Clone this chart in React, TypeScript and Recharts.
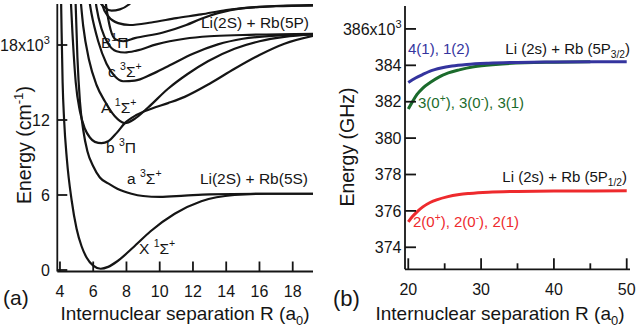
import React from 'react';
import { LineChart, Line, XAxis, YAxis } from 'recharts';

type Pt = [number, number];

// Panel (a): potential curves, R (a0) vs energy (10^3 cm^-1)
const curveX1Sigma: Pt[] = [[4.05,23],[4.1,19],[4.16,15],[4.25,12],[4.42,8.8],[4.7,5.6],[5.0,3.3],[5.3,1.9],[5.6,1.0],[6.0,0.35],[6.45,0.1],[6.9,0.25],[7.45,0.7],[8.4,1.8],[9.45,3.1],[10.9,4.5],[12.5,5.5],[14.5,6.0],[16.5,6.1],[19.3,6.1]];
const curveA3Sigma: Pt[] = [[4.9,23],[5.05,17],[5.2,13.5],[5.4,11.2],[5.65,9.5],[6.0,8.3],[6.4,7.4],[7.0,6.85],[7.45,6.5],[8.3,6.1],[9.0,5.92],[10.0,5.85],[11.5,5.95],[13,6.05],[16,6.1],[19.3,6.1]];
const curveB3Pi: Pt[] = [[4.6,23],[4.75,19],[4.95,15],[5.2,12.7],[5.5,11.3],[5.8,10.6],[6.1,10.25],[6.5,10.15],[6.9,10.3],[7.4,10.95],[7.9,11.75],[8.6,12.4],[9.5,12.9],[10.5,13.35],[11.5,13.85],[13,14.9],[14.5,16.1],[16,17.2],[17.5,18.1],[19.3,18.75]];
const curveA1Sigma: Pt[] = [[5.15,23],[5.4,19.5],[5.75,16.8],[6.2,14.8],[6.7,13.5],[7.3,12.3],[7.9,11.75],[8.5,12.1],[9.3,13.0],[10.5,14.5],[11.7,15.7],[12.9,16.7],[14.5,17.7],[16,18.3],[17.5,18.65],[19.3,18.85]];
const curveC3Sigma: Pt[] = [[5.6,23],[5.9,20.5],[6.3,18.3],[6.8,16.5],[7.3,15.5],[7.8,15.1],[8.5,15.15],[9.5,15.65],[10.5,16.3],[12,17.3],[13.5,18.05],[15,18.5],[17,18.75],[19.3,18.85]];
const curveB1Pi: Pt[] = [[6.0,23],[6.2,21],[6.5,19.3],[6.9,18.1],[7.4,17.5],[7.9,17.4],[8.6,17.55],[9.8,18.05],[11.5,18.5],[13,18.7],[15,18.8],[19.3,18.9]];
const curveUpper1: Pt[] = [[6.3,23],[6.55,21.2],[6.9,20.3],[7.5,19.75],[8.2,19.6],[9.5,19.8],[11,20.15],[12.5,20.45],[14,20.8],[16,21.05],[19.3,21.2]];
const curveUpper2: Pt[] = [[6.05,23],[6.3,21.7],[6.7,21.0],[7.1,20.75],[7.6,20.85],[8.1,21.2],[8.5,21.8],[8.8,23]];
const curveUpper3: Pt[] = [[6.6,23],[6.85,20.5],[7.05,19.2],[7.35,18.45],[7.8,18.3],[8.5,18.55],[10.2,19.0],[11.6,19.6],[12.5,20.1],[13.5,20.55],[15,20.95],[17,21.1],[19.3,21.15]];

const panelACurves: Pt[][] = [curveX1Sigma, curveA3Sigma, curveB3Pi, curveA1Sigma, curveC3Sigma, curveB1Pi, curveUpper1, curveUpper2, curveUpper3];

const panelAXTicks = [4, 6, 8, 10, 12, 14, 16, 18];
const panelAYTicks = [0, 6, 12, 18];

// Panel (b): long-range curves, R (a0) vs energy (GHz)
const blueCurve: Pt[] = [[20,383.05],[21,383.3],[22,383.5],[23,383.68],[24.5,383.85],[26,383.96],[28,384.05],[31,384.12],[35,384.16],[40,384.18],[50,384.2]];
const greenCurve: Pt[] = [[20,381.6],[20.5,381.95],[21.2,382.4],[22,382.75],[23,383.05],[24.2,383.35],[25.5,383.58],[27,383.75],[29,383.92],[32,384.05],[36,384.14],[40,384.17],[45,384.19]];
const redCurve: Pt[] = [[20,375.4],[20.6,375.7],[21.2,375.95],[22,376.22],[23,376.46],[24,376.62],[25.3,376.77],[27,376.9],[28.4,376.96],[31,377.03],[35,377.07],[40,377.09],[50,377.1]];

const panelBXTicks = [20, 25, 30, 35, 40, 45, 50];
const panelBXLabeled = [20, 30, 40, 50];
const panelBYTicks = [374, 376, 378, 380, 382, 384, 386];

const FONT = '"Liberation Sans", Arial, Helvetica, sans-serif';
const INK = '#151515';
const BLUE = '#34349e';
const GREEN = '#1b6b2c';
const RED = '#ee2a2d';

const toRows = (pts: Pt[]) => pts.map(([r, e]) => ({ r, e }));

type Part = [string, number];
function Rich({ x, y, parts, size, anchor = 'start', fill = INK, rotate }: { x: number; y: number; parts: Part[]; size: number; anchor?: 'start' | 'middle' | 'end'; fill?: string; rotate?: number }) {
  const shift = (lv: number) => (lv === 1 ? -0.42 * size : lv === -1 ? 0.25 * size : 0);
  let level = 0;
  const spans = parts.map(([t, l], i) => {
    const dy = shift(l) - shift(level);
    level = l;
    return (
      <tspan key={i} dy={dy} fontSize={l ? size * 0.68 : size}>
        {t}
      </tspan>
    );
  });
  return (
    <text x={x} y={y} textAnchor={anchor} fontSize={size} fontFamily={FONT} fill={fill} transform={rotate ? `rotate(${rotate} ${x} ${y})` : undefined}>
      {spans}
    </text>
  );
}

const makeBottomTick = (len: number, labeled: number[] | null, minorLen = 0) => (props: any) => {
  const { x, y, payload } = props;
  const v = payload.value;
  const isMajor = !labeled || labeled.includes(v);
  const l = isMajor ? len : minorLen;
  return (
    <g>
      <line x1={x} x2={x} y1={y} y2={y - l} stroke={INK} strokeWidth={1.8} />
      {isMajor && (
        <text x={x} y={y + 14} dy="0.71em" textAnchor="middle" fontFamily={FONT} fontSize={16} fill={INK}>
          {v}
        </text>
      )}
    </g>
  );
};

const makeTopTick = (len: number, labeled: number[] | null, minorLen = 0) => (props: any) => {
  const { x, y, payload } = props;
  const v = payload.value;
  const isMajor = !labeled || labeled.includes(v);
  const l = isMajor ? len : minorLen;
  return <line x1={x} x2={x} y1={y} y2={y + l} stroke={INK} strokeWidth={1.8} />;
};

const makeLeftTick = (len: number, gap: number, supValue: number) => (props: any) => {
  const { x, y, payload } = props;
  const v = payload.value;
  return (
    <g>
      <line x1={x} x2={x + len} y1={y} y2={y} stroke={INK} strokeWidth={1.8} />
      <text x={x - gap} y={y} dy="0.36em" textAnchor="end" fontFamily={FONT} fontSize={16} fill={INK}>
        {v === supValue ? (
          <>
            {`${v}x10`}
            <tspan dy={-7} fontSize={11}>3</tspan>
          </>
        ) : (
          v
        )}
      </text>
    </g>
  );
};

const makeRightTick = (len: number) => (props: any) => {
  const { x, y } = props;
  return <line x1={x} x2={x - len} y1={y} y2={y} stroke={INK} strokeWidth={1.8} />;
};

const axisLineStyle = { stroke: INK, strokeWidth: 1.8 };

function PanelA() {
  return (
    <LineChart width={320} height={328} margin={{ top: 4, right: 7, left: 0, bottom: 0 }}>
      <XAxis xAxisId="b" dataKey="r" type="number" orientation="bottom" domain={[3.84, 19.22]} allowDataOverflow ticks={panelAXTicks} interval={0} height={56.5} tickSize={0} tickMargin={0} tickLine={false} axisLine={axisLineStyle} tick={makeBottomTick(10, null)} />
      <XAxis xAxisId="t" dataKey="r" type="number" orientation="top" domain={[3.84, 19.22]} allowDataOverflow ticks={panelAXTicks} interval={0} height={0} tickSize={0} tickMargin={0} tickLine={false} axisLine={axisLineStyle} tick={makeTopTick(10, null)} />
      <YAxis yAxisId="l" type="number" orientation="left" domain={[-0.12, 21.28]} allowDataOverflow ticks={panelAYTicks} interval={0} width={57.3} tickSize={0} tickMargin={0} tickLine={false} axisLine={axisLineStyle} tick={makeLeftTick(10, 7.5, 18)} />
      <YAxis yAxisId="r" type="number" orientation="right" domain={[-0.12, 21.28]} allowDataOverflow ticks={panelAYTicks} interval={0} width={0} tickSize={0} tickMargin={0} tickLine={false} axisLine={axisLineStyle} tick={makeRightTick(10)} />
      {panelACurves.map((c, i) => (
        <Line key={i} xAxisId="b" yAxisId="l" data={toRows(c)} dataKey="e" type="monotone" stroke={INK} strokeWidth={2.2} dot={false} activeDot={false} isAnimationActive={false} />
      ))}
    </LineChart>
  );
}

function PanelB() {
  const series: [Pt[], string][] = [
    [redCurve, RED],
    [greenCurve, GREEN],
    [blueCurve, BLUE],
  ];
  return (
    <LineChart width={316} height={328} margin={{ top: 6, right: 6, left: 0, bottom: 0 }}>
      <XAxis xAxisId="b" dataKey="r" type="number" orientation="bottom" domain={[19.55, 50.45]} allowDataOverflow ticks={panelBXTicks} interval={0} height={58.7} tickSize={0} tickMargin={0} tickLine={false} axisLine={axisLineStyle} tick={makeBottomTick(11, panelBXLabeled, 6)} />
      <XAxis xAxisId="t" dataKey="r" type="number" orientation="top" domain={[19.55, 50.45]} allowDataOverflow ticks={panelBXTicks} interval={0} height={0} tickSize={0} tickMargin={0} tickLine={false} axisLine={axisLineStyle} tick={makeTopTick(11, panelBXLabeled, 6)} />
      <YAxis yAxisId="l" type="number" orientation="left" domain={[372.79, 387.26]} allowDataOverflow ticks={panelBYTicks} interval={0} width={85} tickSize={0} tickMargin={0} tickLine={false} axisLine={axisLineStyle} tick={makeLeftTick(11, 3.5, 386)} />
      <YAxis yAxisId="r" type="number" orientation="right" domain={[372.79, 387.26]} allowDataOverflow ticks={panelBYTicks} interval={0} width={0} tickSize={0} tickMargin={0} tickLine={false} axisLine={axisLineStyle} tick={makeRightTick(11)} />
      {series.map(([c, col], i) => (
        <Line key={i} xAxisId="b" yAxisId="l" data={toRows(c)} dataKey="e" type="monotone" stroke={col} strokeWidth={3} dot={false} activeDot={false} isAnimationActive={false} />
      ))}
    </LineChart>
  );
}

export default function App() {
  return (
    <div style={{ position: 'absolute', left: 0, top: 0, width: 636, height: 328, background: '#fff', overflow: 'hidden' }}>
      <div style={{ position: 'absolute', left: 0, top: 0 }}>
        <PanelA />
      </div>
      <div style={{ position: 'absolute', left: 320, top: 0 }}>
        <PanelB />
      </div>
      <svg width={636} height={328} style={{ position: 'absolute', left: 0, top: 0, pointerEvents: 'none' }}>
        {/* Panel (a) annotations */}
        <Rich x={309} y={28} size={15.5} anchor="end" parts={[['Li(2S) + Rb(5P)', 0]]} />
        <Rich x={101} y={48} size={15.5} parts={[['B', 0], ['1', 1], ['Π', 0]]} />
        <Rich x={108} y={77} size={15.5} parts={[['c ', 0], ['3', 1], ['Σ', 0], ['+', 1]]} />
        <Rich x={101} y={113} size={15.5} parts={[['A ', 0], ['1', 1], ['Σ', 0], ['+', 1]]} />
        <Rich x={106} y={153} size={15.5} parts={[['b ', 0], ['3', 1], ['Π', 0]]} />
        <Rich x={127} y={184} size={15.5} parts={[['a ', 0], ['3', 1], ['Σ', 0], ['+', 1]]} />
        <Rich x={308} y={184} size={15.5} anchor="end" parts={[['Li(2S) + Rb(5S)', 0]]} />
        <Rich x={139} y={254} size={15.5} parts={[['X ', 0], ['1', 1], ['Σ', 0], ['+', 1]]} />
        <Rich x={31} y={145} size={19.5} anchor="middle" rotate={-90} parts={[['Energy (cm', 0], ['-1', 1], [')', 0]]} />
        <Rich x={185} y={320} size={19} anchor="middle" parts={[['Internuclear separation R (a', 0], ['0', -1], [')', 0]]} />
        <Rich x={3} y={305} size={21} parts={[['(a)', 0]]} />
        {/* Panel (b) annotations */}
        <Rich x={408} y={54} size={15} fill={BLUE} parts={[['4(1), 1(2)', 0]]} />
        <Rich x={630} y={54} size={15} anchor="end" parts={[['Li (2s) + Rb (5P', 0], ['3/2', -1], [')', 0]]} />
        <Rich x={418} y={108} size={15} fill={GREEN} parts={[['3(0', 0], ['+', 1], ['), 3(0', 0], ['-', 1], ['), 3(1)', 0]]} />
        <Rich x={627} y={182} size={15} anchor="end" parts={[['Li (2s) + Rb (5P', 0], ['1/2', -1], [')', 0]]} />
        <Rich x={413} y={227} size={15} fill={RED} parts={[['2(0', 0], ['+', 1], ['), 2(0', 0], ['-', 1], ['), 2(1)', 0]]} />
        <Rich x={354} y={147} size={19.5} anchor="middle" rotate={-90} parts={[['Energy (GHz)', 0]]} />
        <Rich x={500} y={320} size={19} anchor="middle" parts={[['Internuclear separation R (a', 0], ['0', -1], [')', 0]]} />
        <Rich x={333} y={306} size={22} parts={[['(b)', 0]]} />
      </svg>
    </div>
  );
}
